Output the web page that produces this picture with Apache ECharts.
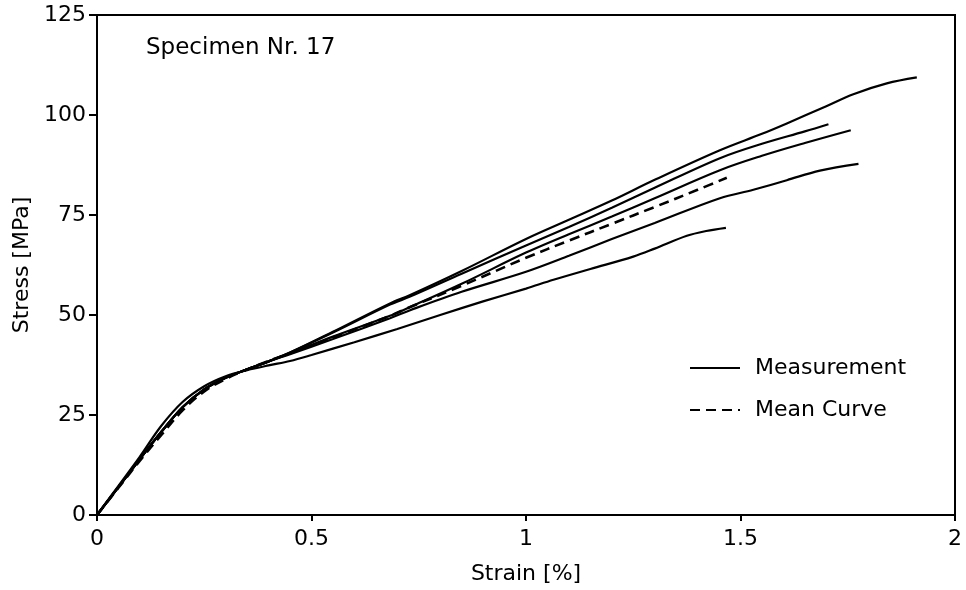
<!DOCTYPE html>
<html><head><meta charset="utf-8">
<script src="https://cdn.jsdelivr.net/npm/echarts@6/dist/echarts.min.js"></script>
<style>html,body{margin:0;padding:0;background:#fff}#c{width:966px;height:590px}</style>
</head><body><div id="c"></div>
<script>
// Strain [%] / Stress [MPa] pairs
const measA = [[0,0],[0.05,7],[0.1,14],[0.15,20.8],[0.2,27],[0.25,31.4],[0.3,34.3],[0.35,36.4],[0.4,38.4],[0.45,40.6],[0.55,45.8],[0.683,52.9],[0.73,55],[0.85,61],[1.0,69],[1.1,73.8],[1.2,78.6],[1.3,83.8],[1.452,91.2],[1.55,95.3],[1.608,97.9],[1.7,102.2],[1.763,105.2],[1.841,107.9],[1.911,109.4]];
const measB = [[0,0],[0.05,7],[0.1,14],[0.15,20.8],[0.2,27],[0.25,31.4],[0.3,34.3],[0.35,36.4],[0.4,38.4],[0.45,40.6],[0.55,45.6],[0.683,52.6],[0.73,54.6],[0.85,60.3],[1.0,67.4],[1.1,72],[1.2,76.8],[1.3,81.8],[1.452,89.2],[1.55,92.8],[1.65,95.9],[1.705,97.7]];
const measC = [[0,0],[0.05,7],[0.1,14],[0.15,20.8],[0.2,27],[0.25,31.4],[0.3,34.3],[0.35,36.4],[0.4,38.4],[0.45,40.4],[0.55,44.6],[0.683,49.8],[0.73,52],[0.85,57.8],[1.0,65.6],[1.1,70.2],[1.2,74.6],[1.3,79.2],[1.452,86.2],[1.55,89.8],[1.65,93],[1.757,96.2]];
const measD = [[0,0],[0.05,7],[0.1,14],[0.15,20.8],[0.2,27],[0.25,31.4],[0.3,34.3],[0.35,36.4],[0.4,38.4],[0.45,40.2],[0.55,44],[0.683,49.2],[0.73,51.2],[0.85,55.8],[1.0,60.8],[1.1,64.8],[1.2,69],[1.3,73],[1.452,79.2],[1.53,81.3],[1.608,83.7],[1.685,86.1],[1.775,87.8]];
const measE = [[0,0],[0.05,7.3],[0.1,14.6],[0.15,22.3],[0.2,28.3],[0.25,32.2],[0.3,34.7],[0.35,36.2],[0.4,37.4],[0.45,38.5],[0.5,40],[0.6,43.2],[0.7,46.5],[0.8,50],[0.9,53.4],[1.0,56.6],[1.064,58.8],[1.15,61.5],[1.25,64.6],[1.3,66.6],[1.375,69.8],[1.42,71],[1.466,71.8]];
const meanCurve = [[0,0],[0.05,6.8],[0.1,13.6],[0.15,20],[0.2,26.2],[0.25,30.9],[0.3,34],[0.35,36.4],[0.4,38.5],[0.5,42.4],[0.6,46.4],[0.683,49.8],[0.73,52],[0.85,57.3],[1.0,64.3],[1.1,68.6],[1.2,72.8],[1.3,77],[1.4,81.3],[1.468,84.3]];
const xTicks = [0, 0.5, 1, 1.5, 2];
const yTicks = [0, 25, 50, 75, 100, 125];
const legendNames = ['Measurement', 'Mean Curve'];
const annotation = 'Specimen Nr. 17';

const FONT = 'DejaVu Sans';
const chart = echarts.init(document.getElementById('c'), null, {renderer: 'canvas'});
const measurements = [measA, measB, measC, measD, measE];
const series = measurements.map(d => ({
  name: legendNames[0], type: 'line', data: d, showSymbol: false, symbol: 'none',
  smooth: 0.35, lineStyle: {color: '#000', width: 2.2}, itemStyle: {color: '#000'}, animation: false, z: 3
}));
series.push({
  name: legendNames[1], type: 'line', data: meanCurve, showSymbol: false, symbol: 'none',
  smooth: 0.35, lineStyle: {color: '#000', width: 2.6, type: [10, 6]}, itemStyle: {color: '#000'}, animation: false, z: 4
});
chart.setOption({
  animation: false,
  backgroundColor: '#fff',
  title: {text: annotation, left: 141, top: 32,
    textStyle: {fontFamily: FONT, fontSize: 23, fontWeight: 'normal', color: '#000'}},
  legend: {data: legendNames, orient: 'vertical', left: 684, top: 352, itemWidth: 50, itemHeight: 14,
    itemGap: 20,
    itemStyle: {color: 'rgba(0,0,0,0)', borderWidth: 0, opacity: 0},
    textStyle: {fontFamily: FONT, fontSize: 22, color: '#000', padding: [0, 0, 0, 10]}},
  grid: {left: 97, right: 11, top: 15, bottom: 75, show: true, borderColor: '#000', borderWidth: 2, containLabel: false},
  xAxis: {type: 'value', min: xTicks[0], max: xTicks[xTicks.length - 1], interval: 0.5,
    name: 'Strain [%]', nameLocation: 'middle', nameGap: 48,
    nameTextStyle: {fontFamily: FONT, fontSize: 22, color: '#000'},
    axisLine: {lineStyle: {color: '#000', width: 2}},
    axisTick: {show: true, inside: false, length: 6, lineStyle: {color: '#000', width: 2}},
    axisLabel: {fontFamily: FONT, fontSize: 22, color: '#000', margin: 13,
      formatter: v => String(v)},
    splitLine: {show: false}},
  yAxis: {type: 'value', min: yTicks[0], max: yTicks[yTicks.length - 1], interval: 25,
    name: 'Stress [MPa]', nameLocation: 'middle', nameGap: 60,
    nameTextStyle: {fontFamily: FONT, fontSize: 22, color: '#000'},
    axisLine: {lineStyle: {color: '#000', width: 2}},
    axisTick: {show: true, inside: false, length: 8, lineStyle: {color: '#000', width: 2}},
    axisLabel: {fontFamily: FONT, fontSize: 22, color: '#000', margin: 11},
    splitLine: {show: false}},
  series: series
});
</script></body></html>
